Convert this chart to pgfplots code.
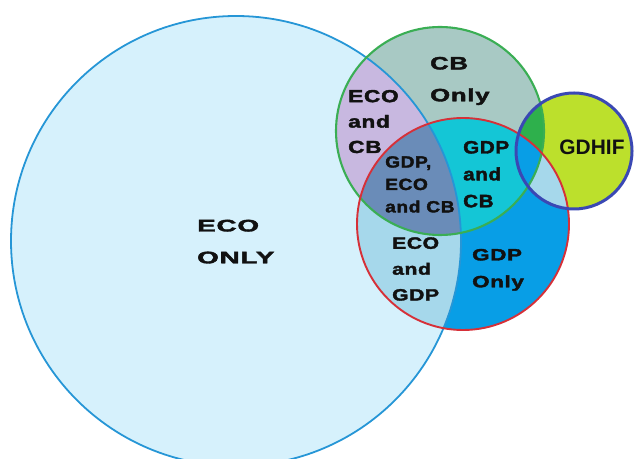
\documentclass[border=0pt]{standalone}
\usepackage{pgfplots}
\pgfplotsset{compat=1.18}
\usepackage{graphicx}
\usepackage{fontspec}
\setmainfont{Liberation Sans}
\newfontfamily\labf{Liberation Sans}[LetterSpace=3,FakeBold=2]

\definecolor{ecofill}{RGB}{214,241,252}
\definecolor{ecoline}{RGB}{38,150,214}
\definecolor{cbfill}{RGB}{168,201,196}
\definecolor{cbline}{RGB}{58,174,84}
\definecolor{gdpfill}{RGB}{8,158,230}
\definecolor{gdpline}{RGB}{214,48,56}
\definecolor{gdhfill}{RGB}{188,224,44}
\definecolor{gdhline}{RGB}{58,72,180}
\definecolor{ecocb}{RGB}{200,184,224}
\definecolor{triple}{RGB}{106,140,184}
\definecolor{gdpcb}{RGB}{20,198,214}
\definecolor{ecogdp}{RGB}{166,216,235}
\definecolor{cbgdh}{RGB}{46,176,76}
\definecolor{txt}{RGB}{17,17,17}

% circle data: centre x, centre y, radius (axis units = px of the reference)
\def\ecoX{236}\def\ecoY{218}\def\ecoR{225}
\def\cbX{440}\def\cbY{328}\def\cbR{104}
\def\gdpX{463}\def\gdpY{235}\def\gdpR{106}
\def\ghX{574}\def\ghY{308}\def\ghR{58}

\newcommand\ECO{(axis cs:\ecoX,\ecoY) circle [radius=\ecoR]}
\newcommand\CB{(axis cs:\cbX,\cbY) circle [radius=\cbR]}
\newcommand\GDP{(axis cs:\gdpX,\gdpY) circle [radius=\gdpR]}
\newcommand\GH{(axis cs:\ghX,\ghY) circle [radius=\ghR]}

% x, y, xscale, size, skip, text
\newcommand\lab[6]{\node[anchor=west,inner sep=0pt,text=txt] at (axis cs:#1,#2)
  {\scalebox{#3}[1]{\fontsize{#4}{#5}\selectfont\labf\bfseries\begin{tabular}{@{}l@{}}#6\end{tabular}}};}

\begin{document}
\begin{tikzpicture}
\begin{axis}[
  scale only axis, width=634bp, height=459bp,
  xmin=0, xmax=634, ymin=0, ymax=459,
  hide axis, clip=false]
\addplot[draw=none] coordinates {(0,0) (634,459)};
% base fills
\fill[ecofill] \ECO;
\fill[cbfill] \CB;
\fill[gdhfill] \GH;
\fill[gdpfill] \GDP;
% GDP and CB
\begin{scope}\clip \CB; \fill[gdpcb] \GDP; \end{scope}
% ECO and GDP
\begin{scope}\clip \ECO; \fill[ecogdp] \GDP; \end{scope}
% ECO and CB
\begin{scope}\clip \ECO; \fill[ecocb] \CB; \end{scope}
% triple
\begin{scope}\clip \ECO; \clip \CB; \fill[triple] \GDP; \end{scope}
% GDHIF overlaps
\begin{scope}\clip \GH; \fill[ecogdp] \GDP; \end{scope}
\begin{scope}\clip \GH; \fill[cbgdh] \CB; \end{scope}
\begin{scope}\clip \GH; \clip \CB; \fill[gdpfill] \GDP; \end{scope}
% outlines
\draw[ecoline, line width=1.8bp] \ECO;
\draw[cbline, line width=2.1bp] \CB;
\draw[gdpline, line width=1.9bp] \GDP;
\draw[gdhline, line width=3bp] \GH;
% labels
\lab{197}{218}{1.66}{16.8}{32}{ECO\\ONLY}
\lab{430}{380}{1.43}{18}{32}{CB\\Only}
\lab{348}{336.5}{1.3}{17.5}{25.5}{ECO\\and\\CB}
\lab{385}{273.5}{1.18}{16.3}{22.5}{GDP,\\ECO\\and CB}
\lab{463}{284}{1.15}{18}{27}{GDP\\and\\CB}
\lab{392}{189.5}{1.28}{16.5}{26}{ECO\\and\\GDP}
\lab{472}{190.5}{1.36}{16.5}{27}{GDP\\Only}
\node[inner sep=0pt,text=txt,font=\fontsize{21}{25}\selectfont\bfseries] at (axis cs:592,311.5) {GDHIF};
\end{axis}
\pgfresetboundingbox
\path (0,0) rectangle (634bp,459bp);
\end{tikzpicture}
\end{document}
